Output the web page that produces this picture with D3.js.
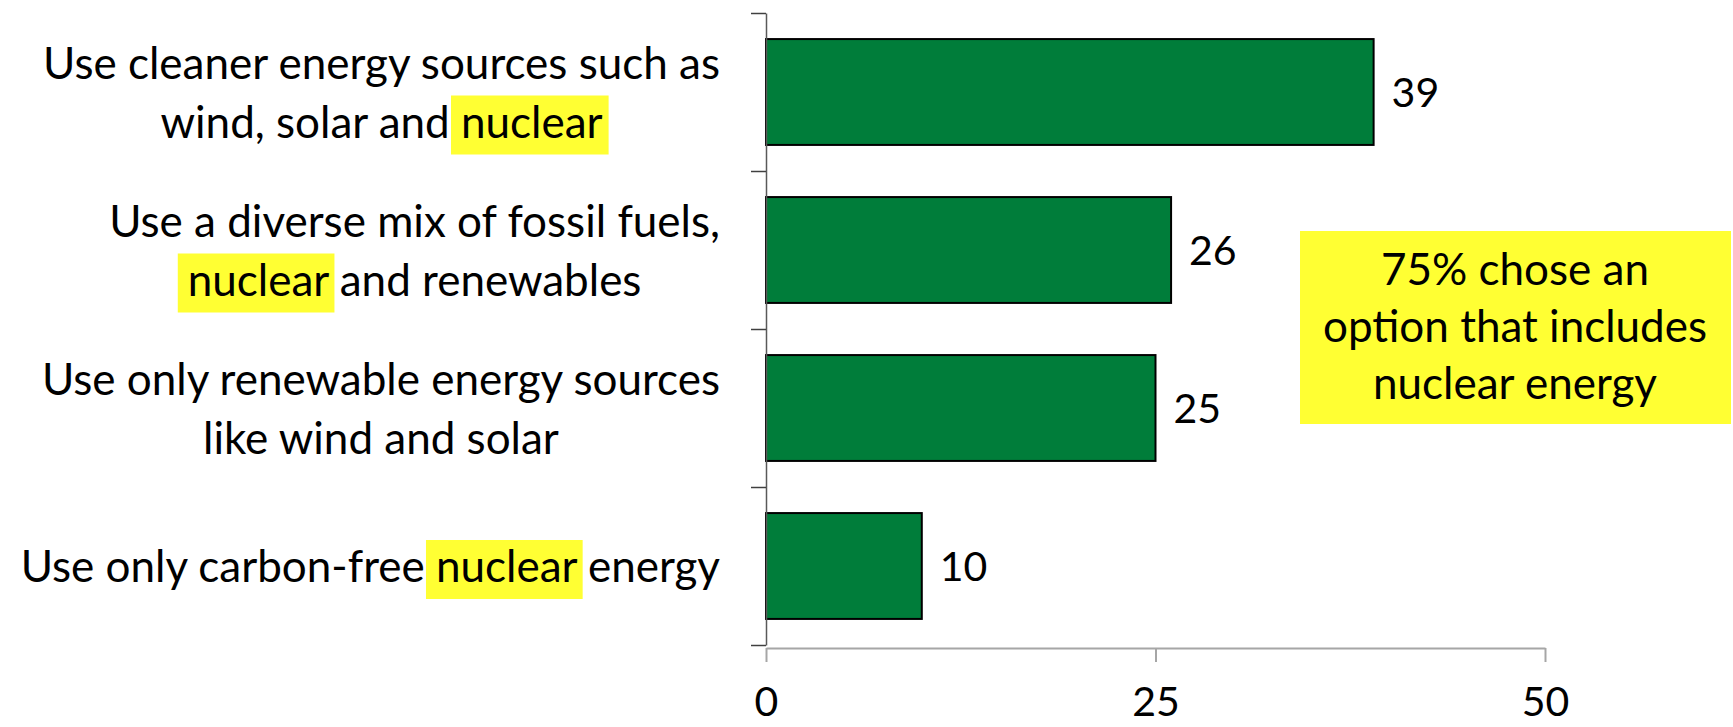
<!DOCTYPE html>
<html>
<head>
<meta charset="utf-8">
<script src="https://cdn.jsdelivr.net/npm/d3@7"></script>
<style>
  body { margin: 0; background: #fff; }
  svg text { font-family: Lato, "Open Sans", sans-serif; fill: #000; }
</style>
</head>
<body>
<svg id="chart" width="1733" height="727"></svg>
<script>
// survey answers, top to bottom
const categories = [
  "Use cleaner energy sources such as wind, solar and nuclear",
  "Use a diverse mix of fossil fuels, nuclear and renewables",
  "Use only renewable energy sources like wind and solar",
  "Use only carbon-free nuclear energy"
];
const labelLines = [
  ["Use cleaner energy sources such as", "wind, solar and nuclear"],
  ["Use a diverse mix of fossil fuels,", "nuclear and renewables"],
  ["Use only renewable energy sources", "like wind and solar"],
  ["Use only carbon-free nuclear energy"]
];
const values = [39, 26, 25, 10];
const xTicks = [0, 25, 50];
const highlightWord = "nuclear";
const noteLines = ["75% chose an", "option that includes", "nuclear energy"];

const fontSize = 44;
const numSize = 41;
const lineGap = 59;
const green = "#007d3a";
const yellow = "#ffff33";

const svg = d3.select("#chart");

const x = d3.scaleLinear()
  .domain([0, 50])
  .range([766, 1545]);

const y = d3.scaleBand()
  .domain(categories)
  .range([13, 645])
  .paddingInner(0.33)
  .paddingOuter(0.165);

// band edges for the y axis ticks
const edge = d3.scaleLinear()
  .domain([0, categories.length])
  .range([13, 645]);

const axisBottom = 648;

// x axis
const xAxis = svg.append("g")
  .attr("transform", `translate(0, ${axisBottom})`)
  .call(d3.axisBottom(x).tickValues(xTicks).tickSize(14).tickSizeOuter(0).tickPadding(25));
xAxis.select(".domain").attr("stroke", "#a6a6a6").attr("stroke-width", 2);
xAxis.selectAll(".tick line").attr("stroke", "#a6a6a6").attr("stroke-width", 2);
xAxis.selectAll(".tick text")
  .attr("font-size", numSize)
  .style("font-family", "Lato, sans-serif")
  .attr("fill", "#000");

// bars
svg.append("g")
  .selectAll("rect")
  .data(values)
  .join("rect")
    .attr("x", x(0))
    .attr("y", (d, i) => y(categories[i]))
    .attr("width", d => x(d) - x(0))
    .attr("height", y.bandwidth())
    .attr("fill", green)
    .attr("stroke", "#000")
    .attr("stroke-width", 2);

// y axis
const yAxis = svg.append("g")
  .attr("transform", `translate(${x(0)}, 0)`)
  .call(d3.axisLeft(edge).tickValues(d3.range(categories.length + 1)).tickSize(15).tickSizeOuter(0).tickFormat(""));
yAxis.select(".domain").attr("stroke", "#595959").attr("stroke-width", 1.5);
yAxis.selectAll(".tick line").attr("stroke", "#404040").attr("stroke-width", 1.5);

// value labels
svg.append("g")
  .selectAll("text")
  .data(values)
  .join("text")
    .attr("x", d => x(d) + 18)
    .attr("y", (d, i) => y(categories[i]) + y.bandwidth() / 2 + 15)
    .attr("font-size", numSize)
    .text(d => d);

// category labels, block centred and right aligned against the axis
const labelRight = 720;
labelLines.forEach((lines, i) => {
  const cy = y(categories[i]) + y.bandwidth() / 2;
  const g = svg.append("g");
  const hl = g.append("g");
  const texts = lines.map((line, j) => g.append("text")
    .attr("y", cy + 16 + (j - (lines.length - 1) / 2) * lineGap)
    .attr("font-size", fontSize)
    .text(line));
  const widths = texts.map(t => t.node().getComputedTextLength());
  const w = d3.max(widths);
  texts.forEach((t, j) => {
    const x0 = labelRight - w / 2 - widths[j] / 2;
    t.attr("x", x0);
    const idx = lines[j].indexOf(highlightWord);
    if (idx >= 0) {
      const node = t.node();
      const pre = idx > 0 ? node.getSubStringLength(0, idx) : 0;
      const len = node.getSubStringLength(idx, highlightWord.length);
      const base = +t.attr("y");
      hl.append("rect")
        .attr("x", x0 + pre - 10)
        .attr("y", base - 42)
        .attr("width", len + 16)
        .attr("height", 59)
        .attr("fill", yellow);
    }
  });
});

// note box
const note = svg.append("g");
note.append("rect")
  .attr("x", 1300)
  .attr("y", 231)
  .attr("width", 431)
  .attr("height", 193)
  .attr("fill", yellow);
note.selectAll("text")
  .data(noteLines)
  .join("text")
    .attr("x", 1515)
    .attr("y", (d, i) => 285 + i * 57)
    .attr("text-anchor", "middle")
    .attr("font-size", fontSize)
    .text(d => d);
</script>
</body>
</html>
